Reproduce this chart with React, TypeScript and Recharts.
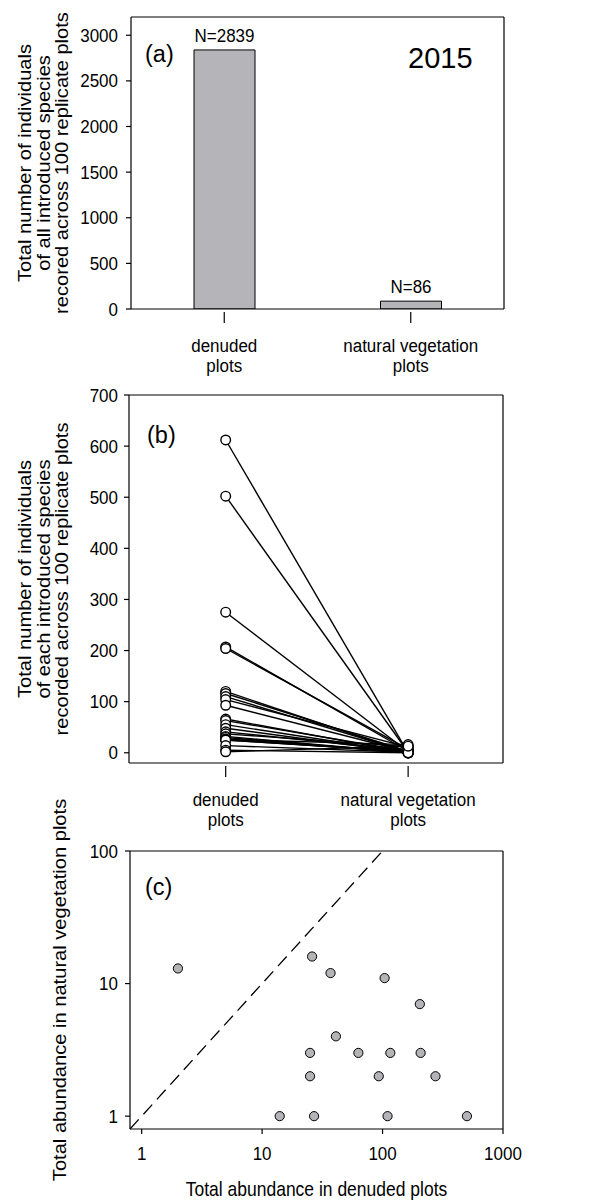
import React from "react";
import {
  BarChart,
  Bar,
  XAxis,
  YAxis,
  LabelList,
  ScatterChart,
  Scatter,
  ReferenceLine,
} from "recharts";

// (a) totals of all introduced species
const categories = ["denuded\nplots", "natural vegetation\nplots"];
const totalIndividuals = [2839, 86];
const totalLabels = ["N=2839", "N=86"];
const totalTicks = [0, 500, 1000, 1500, 2000, 2500, 3000];

// (b)/(c) per-species totals, same species order in both arrays
const denudedCounts = [612, 502, 275, 207, 204, 120, 116, 110, 104, 93, 66, 63, 55, 48, 41, 37, 32, 30, 27, 26, 25, 25, 14, 5, 2];
const naturalCounts = [0, 1, 2, 3, 7, 0, 3, 1, 11, 2, 0, 3, 0, 0, 4, 12, 0, 0, 1, 16, 3, 2, 1, 0, 13];
const speciesTicks = [0, 100, 200, 300, 400, 500, 600, 700];

// (c) log axes and the 1:1 line
const logXTicks = [1, 10, 100, 1000];
const logYTicks = [1, 10, 100];
const oneToOne = [0.8, 100];

const INK = "#000";
const FONT = '"Liberation Sans", Arial, Helvetica, sans-serif';
const axisStroke = { stroke: INK, strokeWidth: 1.2 };
const tickStroke = { stroke: INK, strokeWidth: 1.2 };
const STRETCH = 1.12; // the figure's lettering is a bit taller than plain Arial

const barData = categories.map((cat, i) => ({
  cat,
  total: totalIndividuals[i],
  label: totalLabels[i],
}));

const speciesPairs = denudedCounts.map((d, i) => ({ d, n: naturalCounts[i] }));
const denudedPoints = speciesPairs.map((p) => ({ x: 1, y: p.d }));
const naturalPoints = speciesPairs.map((p) => ({ x: 2, y: p.n }));
const abundancePoints = speciesPairs
  .filter((p) => p.n > 0)
  .map((p) => ({ x: p.d, y: p.n }));

function SText({ x, y, anchor = "middle", size = 17, children }: any) {
  return (
    <text
      transform={`translate(${x} ${y}) scale(1 ${STRETCH})`}
      textAnchor={anchor}
      fontSize={size}
      fill={INK}
    >
      {children}
    </text>
  );
}

function CategoryTick({ x, y, payload, labelOf }: any) {
  const lines = String(labelOf(payload.value)).split("\n");
  return (
    <g>
      <line x1={x} x2={x} y1={y + 3} y2={y + 14} stroke={INK} strokeWidth={1.2} />
      {lines.map((t, i) => (
        <SText key={i} x={x} y={y + 43 + i * 20}>
          {t}
        </SText>
      ))}
    </g>
  );
}

const LeftTick = ({ x, y, payload }: any) => (
  <SText x={x} y={y + 6.5} anchor="end">
    {payload.value}
  </SText>
);

const BottomTick = ({ x, y, payload }: any) => (
  <SText x={x} y={y + 26}>
    {payload.value}
  </SText>
);

const rotatedTitle = (lines: string[], xs: number[]) => (props: any) => {
  const { y, height } = props.viewBox;
  const cy = y + height / 2;
  return (
    <g>
      {lines.map((t, i) => (
        <text
          key={i}
          transform={`translate(${xs[i]} ${cy}) rotate(-90) scale(1.15 1)`}
          textAnchor="middle"
          fontSize={17.5}
          fill={INK}
        >
          {t}
        </text>
      ))}
    </g>
  );
};

const abundanceXTitle = (props: any) => {
  const { x, y, width } = props.viewBox;
  return (
    <SText x={x + width / 2} y={y + 67} size={17.5}>
      Total abundance in denuded plots
    </SText>
  );
};

const countLabel = (props: any) => {
  const { x, y, width, value } = props;
  return (
    <SText x={x + width / 2} y={y - 8}>
      {value}
    </SText>
  );
};

const OpenDot = (p: any) => (
  <circle cx={p.cx} cy={p.cy} r={4.8} fill="#fff" stroke={INK} strokeWidth={1.4} />
);
const GreyDot = (p: any) => (
  <circle cx={p.cx} cy={p.cy} r={4.6} fill="#b4b4b6" stroke={INK} strokeWidth={1} />
);
const NoDot = () => <g />;

function TotalsPanel() {
  return (
    <BarChart width={601} height={380} data={barData} margin={{ top: 16, right: 96, bottom: 0, left: 0 }}>
      <XAxis xAxisId="top" orientation="top" dataKey="cat" height={1} tick={false} tickLine={false} axisLine={axisStroke} />
      <XAxis
        dataKey="cat"
        height={71}
        interval={0}
        tickSize={0}
        tickMargin={0}
        tickLine={false}
        axisLine={axisStroke}
        tick={<CategoryTick labelOf={(v: string) => v} />}
      />
      <YAxis
        type="number"
        domain={[0, 3200]}
        ticks={totalTicks}
        interval={0}
        allowDataOverflow
        width={131}
        tickSize={5}
        tickMargin={8}
        tickLine={tickStroke}
        axisLine={axisStroke}
        tick={<LeftTick />}
        label={{
          content: rotatedTitle(
            ["Total number of individuals", "of all introduced species", "recored across 100 replicate plots"],
            [31, 50, 68]
          ),
        }}
      />
      <YAxis yAxisId="right" orientation="right" type="number" domain={[0, 3200]} width={1} tick={false} tickLine={false} axisLine={axisStroke} />
      <Bar dataKey="total" fill="#b5b5b9" stroke={INK} strokeWidth={1} barSize={61} isAnimationActive={false}>
        <LabelList dataKey="label" content={countLabel} />
      </Bar>
    </BarChart>
  );
}

function SpeciesPanel() {
  const xDomain = [0.47, 2.52];
  return (
    <ScatterChart width={601} height={450} margin={{ top: 14, right: 97, bottom: 0, left: 0 }}>
      <XAxis xAxisId="top" orientation="top" type="number" dataKey="x" domain={xDomain} allowDataOverflow height={1} tick={false} tickLine={false} axisLine={axisStroke} />
      <XAxis
        type="number"
        dataKey="x"
        domain={xDomain}
        allowDataOverflow
        ticks={[1, 2]}
        interval={0}
        height={67}
        tickSize={0}
        tickMargin={0}
        tickLine={false}
        axisLine={axisStroke}
        tick={<CategoryTick labelOf={(v: number) => categories[v - 1]} />}
      />
      <YAxis
        type="number"
        dataKey="y"
        domain={[-20, 700]}
        allowDataOverflow
        ticks={speciesTicks}
        interval={0}
        width={129}
        tickSize={5}
        tickMargin={6}
        tickLine={tickStroke}
        axisLine={axisStroke}
        tick={<LeftTick />}
        label={{
          content: rotatedTitle(
            ["Total number of individuals", "of each introduced species", "recorded across 100 replicate plots"],
            [31, 50, 68]
          ),
        }}
      />
      <YAxis yAxisId="right" orientation="right" type="number" dataKey="y" domain={[-20, 700]} allowDataOverflow width={1} tick={false} tickLine={false} axisLine={axisStroke} />
      {speciesPairs.map((p, i) => (
        <Scatter
          key={i}
          data={[{ x: 1, y: p.d }, { x: 2, y: p.n }]}
          line={{ stroke: INK, strokeWidth: 1.4 }}
          shape={NoDot}
          isAnimationActive={false}
        />
      ))}
      <Scatter data={naturalPoints} shape={OpenDot} isAnimationActive={false} />
      <Scatter data={denudedPoints} shape={OpenDot} isAnimationActive={false} />
    </ScatterChart>
  );
}

function AbundancePanel() {
  const xDomain = [0.8, 1000];
  const yDomain = [0.8, 100];
  return (
    <ScatterChart width={601} height={420} margin={{ top: 71, right: 97, bottom: 0, left: 0 }}>
      <XAxis
        xAxisId="top"
        orientation="top"
        type="number"
        scale="log"
        domain={xDomain}
        allowDataOverflow
        ticks={logXTicks}
        interval={0}
        height={1}
        mirror
        tick={false}
        tickSize={5}
        tickLine={tickStroke}
        axisLine={axisStroke}
      />
      <XAxis
        type="number"
        dataKey="x"
        scale="log"
        domain={xDomain}
        allowDataOverflow
        ticks={logXTicks}
        interval={0}
        height={71}
        tickSize={5}
        tickMargin={0}
        tickLine={tickStroke}
        axisLine={axisStroke}
        tick={<BottomTick />}
        label={{ content: abundanceXTitle }}
      />
      <YAxis
        type="number"
        dataKey="y"
        scale="log"
        domain={yDomain}
        allowDataOverflow
        ticks={logYTicks}
        interval={0}
        width={130}
        tickSize={5}
        tickMargin={7}
        tickLine={tickStroke}
        axisLine={axisStroke}
        tick={<LeftTick />}
        label={{ content: rotatedTitle(["Total abundance in natural vegetation plots"], [66]) }}
      />
      <YAxis yAxisId="right" orientation="right" type="number" scale="log" domain={yDomain} allowDataOverflow width={1} tick={false} tickLine={false} axisLine={axisStroke} />
      <ReferenceLine
        segment={[
          { x: oneToOne[0], y: oneToOne[0] },
          { x: oneToOne[1], y: oneToOne[1] },
        ]}
        stroke={INK}
        strokeWidth={1.3}
        strokeDasharray="13 7"
      />
      <Scatter data={abundancePoints} shape={GreyDot} isAnimationActive={false} />
    </ScatterChart>
  );
}

export default function App() {
  return (
    <div
      style={{
        position: "absolute",
        left: 0,
        top: 0,
        width: 601,
        height: 1200,
        background: "#fff",
        fontFamily: FONT,
        overflow: "hidden",
      }}
    >
      <div style={{ position: "absolute", left: 0, top: 0 }}>
        <TotalsPanel />
      </div>
      <div style={{ position: "absolute", left: 0, top: 380 }}>
        <SpeciesPanel />
      </div>
      <div style={{ position: "absolute", left: 0, top: 780 }}>
        <AbundancePanel />
      </div>
      <svg
        width={601}
        height={1200}
        style={{ position: "absolute", left: 0, top: 0, pointerEvents: "none" }}
        fontFamily={FONT}
        fill={INK}
      >
        <text x={145} y={62} fontSize={23.5}>(a)</text>
        <text x={408} y={68} fontSize={29}>2015</text>
        <text x={147} y={443} fontSize={23.5}>(b)</text>
        <text x={145} y={895} fontSize={23.5}>(c)</text>
      </svg>
    </div>
  );
}
